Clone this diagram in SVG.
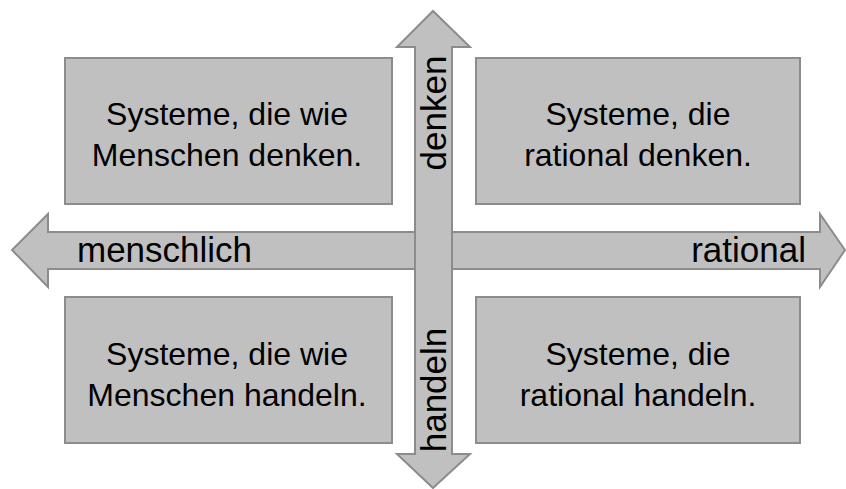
<svg xmlns="http://www.w3.org/2000/svg" width="846" height="489" viewBox="0 0 846 489">
<style>
.box{fill:#c0c0c0;stroke:#8c8c8c;stroke-width:2}
.arr{fill:#c0c0c0;stroke:#8c8c8c;stroke-width:2;stroke-linejoin:miter}
text{font-family:"Liberation Sans",Arial,sans-serif;fill:#000}
.t{font-size:32px;text-anchor:middle}
.a{font-size:35px}
</style>
<rect width="846" height="489" fill="#fff"/>
<g id="connectors">
<polygon class="arr" points="48,214 48,232 820,232 820,214 845,250 820,287 820,269 48,269 48,287 12,250"/>
<polygon class="arr" points="415,47 397,47 433,11 470,47 452,47 452,454 470,454 433,488 397,454 415,454"/>
<text class="a" x="77" y="262">menschlich</text>
<text class="a" x="806" y="262" text-anchor="end">rational</text>
<text class="a" transform="translate(446,113) rotate(-90)" text-anchor="middle">denken</text>
<text class="a" transform="translate(446,390) rotate(-90)" text-anchor="middle">handeln</text>
</g>
<g id="tl"><rect class="box" x="65" y="58" width="327" height="146"/>
<text class="t" x="227" y="125">Systeme, die wie</text><text class="t" x="227" y="166">Menschen denken.</text></g>
<g id="tr"><rect class="box" x="476" y="58" width="324" height="146"/>
<text class="t" x="638" y="125">Systeme, die</text><text class="t" x="638" y="166">rational denken.</text></g>
<g id="bl"><rect class="box" x="65" y="297" width="327" height="146"/>
<text class="t" x="227" y="365">Systeme, die wie</text><text class="t" x="227" y="406">Menschen handeln.</text></g>
<g id="br"><rect class="box" x="476" y="297" width="324" height="146"/>
<text class="t" x="638" y="365">Systeme, die</text><text class="t" x="638" y="406">rational handeln.</text></g>
</svg>
